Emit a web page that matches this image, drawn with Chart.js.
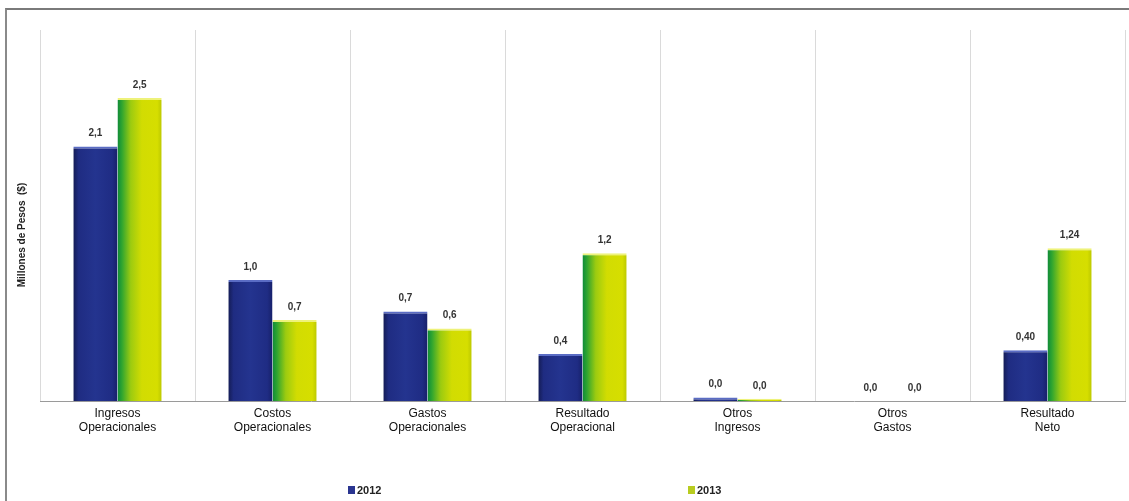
<!DOCTYPE html>
<html>
<head>
<meta charset="utf-8">
<script src="https://cdn.jsdelivr.net/npm/chart.js@4.4.1/dist/chart.umd.min.js"></script>
<style>
  html, body { margin: 0; padding: 0; background: #fff; }
  #wrap { position: relative; width: 1129px; height: 501px; }
  #frame { position: absolute; left: 5px; top: 8px; right: 0; bottom: 0;
           border-top: 2px solid #7a7a7a; border-left: 2px solid #8a8a8a; pointer-events: none; }
  canvas { position: absolute; left: 0; top: 0; }
</style>
</head>
<body>
<div id="wrap">
  <canvas id="chart" width="1129" height="501"></canvas>
  <div id="frame"></div>
</div>
<script>
// Datos
const categories = [
  ['Ingresos', 'Operacionales'],
  ['Costos', 'Operacionales'],
  ['Gastos', 'Operacionales'],
  ['Resultado', 'Operacional'],
  ['Otros', 'Ingresos'],
  ['Otros', 'Gastos'],
  ['Resultado', 'Neto']
];
const values2012 = [2.1, 1.0, 0.74, 0.39, 0.03, 0, 0.42];
const values2013 = [2.5, 0.67, 0.6, 1.22, 0.02, 0, 1.26];
const labels2012 = ['2,1', '1,0', '0,7', '0,4', '0,0', '0,0', '0,40'];
const labels2013 = ['2,5', '0,7', '0,6', '1,2', '0,0', '0,0', '1,24'];
const seriesNames = ['2012', '2013'];
const yTitle = 'Millones de Pesos  ($)';

const CAT_PCT = 0.57;

// Degradado horizontal por barra
function barFill(stops, solid) {
  return function(ctx) {
    const chart = ctx.chart;
    const xs = chart.scales.x;
    if (ctx.type !== 'data' || !xs || !chart.chartArea) return solid;
    const center = xs.getPixelForValue(ctx.dataIndex);
    const w = (xs.width / categories.length) * CAT_PCT / 2;
    const left = ctx.datasetIndex === 0 ? center - w : center;
    const g = chart.ctx.createLinearGradient(left, 0, left + w, 0);
    stops.forEach(s => g.addColorStop(s[0], s[1]));
    return g;
  };
}

const fill2012 = barFill([[0, '#141c55'], [0.12, '#1f2c82'], [0.5, '#24348f'], [0.88, '#1f2c84'], [1, '#17206a']], '#22318c');
const fill2013 = barFill([[0, '#0e8a3a'], [0.1, '#2fa530'], [0.3, '#9ccb10'], [0.55, '#d2dc02'], [0.9, '#d6de00'], [1, '#bcc800']], '#c8d800');

// Etiquetas de valor
const valueLabels = {
  id: 'valueLabels',
  afterDatasetsDraw(chart) {
    const ctx = chart.ctx;
    const texts = [labels2012, labels2013];
    ctx.save();
    ctx.font = 'bold 10px "Liberation Sans", Arial, sans-serif';
    ctx.fillStyle = '#333';
    ctx.textAlign = 'center';
    ctx.textBaseline = 'bottom';
    chart.data.datasets.forEach((ds, di) => {
      chart.getDatasetMeta(di).data.forEach((bar, i) => {
        ctx.fillText(texts[di][i], bar.x, bar.y - 8);
      });
    });
    ctx.restore();
  }
};

// Titulo eje Y y leyenda inferior
const extras = {
  id: 'extras',
  afterDraw(chart) {
    const ctx = chart.ctx;
    ctx.save();
    ctx.translate(22, 235);
    ctx.rotate(-Math.PI / 2);
    ctx.font = 'bold 10px "Liberation Sans", Arial, sans-serif';
    ctx.fillStyle = '#222';
    ctx.textAlign = 'center';
    ctx.textBaseline = 'middle';
    ctx.fillText(yTitle, 0, 0);
    ctx.restore();

    const pos = [348, 688];
    const colors = ['#2a3590', '#b8cc20'];
    ctx.save();
    ctx.font = 'bold 11px "Liberation Sans", Arial, sans-serif';
    ctx.textBaseline = 'middle';
    seriesNames.forEach((name, i) => {
      ctx.fillStyle = colors[i];
      ctx.fillRect(pos[i], 486, 7, 8);
      ctx.fillStyle = '#222';
      ctx.fillText(name, pos[i] + 9, 490.5);
    });
    ctx.restore();
  }
};

new Chart(document.getElementById('chart'), {
  type: 'bar',
  data: {
    labels: categories,
    datasets: [
      {
        label: seriesNames[0],
        data: values2012,
        backgroundColor: fill2012,
        borderColor: '#5a6cc4',
        borderWidth: { top: 2, left: 0, right: 0, bottom: 0 },
        borderSkipped: false,
        categoryPercentage: CAT_PCT,
        barPercentage: 1.0
      },
      {
        label: seriesNames[1],
        data: values2013,
        backgroundColor: fill2013,
        borderColor: '#eef27a',
        borderWidth: { top: 2, left: 0, right: 0, bottom: 0 },
        borderSkipped: false,
        categoryPercentage: CAT_PCT,
        barPercentage: 1.0
      }
    ]
  },
  options: {
    responsive: false,
    animation: false,
    layout: { padding: { left: 40, right: 4, top: 30, bottom: 61 } },
    plugins: {
      legend: { display: false },
      tooltip: { enabled: false }
    },
    scales: {
      x: {
        grid: { display: true, offset: true, color: '#dadada', drawTicks: false },
        border: { display: true, color: '#9a9a9a', width: 1 },
        ticks: {
          color: '#111',
          padding: 5,
          maxRotation: 0,
          autoSkip: false,
          font: { family: '"Liberation Sans", Arial, sans-serif', size: 12 }
        }
      },
      y: {
        display: false,
        min: 0,
        max: 3.06
      }
    }
  },
  plugins: [valueLabels, extras]
});
</script>
</body>
</html>
